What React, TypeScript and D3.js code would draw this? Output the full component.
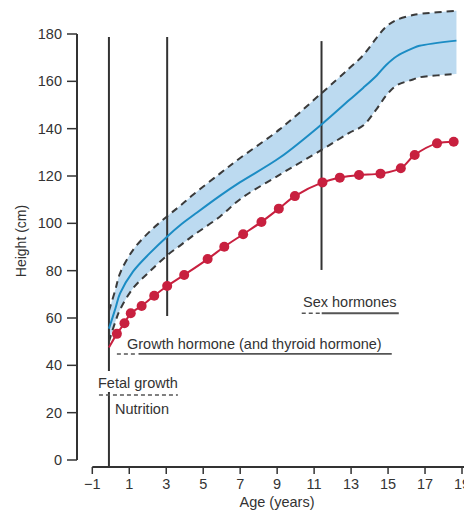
import React from "react";
import * as d3 from "d3";

const W = 464;
const H = 510;

// Reference band (ages in years, heights in cm)
const bandAges = [-0.1, 0.25, 0.5, 1.2, 2.1, 3.1, 3.75, 4.5, 5.9, 7.0, 9.15, 11.4, 12.9, 13.65, 14.4, 14.9, 15.45, 16.35, 16.7, 18.7];
const meanHeight = [55.5, 64, 70.4, 79.6, 87.3, 94.8, 99.2, 103.6, 111.6, 117.4, 127.8, 141.8, 152.1, 157.2, 162.6, 166.9, 170.5, 174, 175, 177.2];
const upperHeight = [63, 72, 78.9, 88.7, 96.5, 103.3, 107.4, 112.4, 121, 127.6, 139.8, 155, 165.5, 171, 178.6, 183.1, 185.9, 188, 188.5, 189.8];
const lowerHeight = [50, 58.5, 63.5, 72.5, 79.6, 86.8, 90.6, 95.1, 102.8, 110.2, 120.6, 131, 138.2, 141.3, 148.5, 154, 158.2, 160.8, 161.7, 163.1];

// Patient growth (red)
const patientStart = { age: -0.1, h: 47.5 };
const patientAges = [0.33, 0.74, 1.08, 1.67, 2.35, 3.05, 3.97, 5.24, 6.14, 7.16, 8.15, 9.09, 9.96, 11.45, 12.39, 13.43, 14.59, 15.69, 16.44, 17.65, 18.55];
const patientHeight = [53.3, 57.8, 62, 65.1, 69.4, 73.5, 78.2, 84.9, 90.1, 95.4, 100.6, 106.2, 111.5, 117.3, 119.3, 120.4, 121, 123.3, 128.9, 133.8, 134.5];

// Axes
const yTicks = [0, 20, 40, 60, 80, 100, 120, 140, 160, 180];
const xTicks = [-1, 1, 3, 5, 7, 9, 11, 13, 15, 17, 19];

// Vertical markers: age, from height, to height
const markerAges = [-0.1, 3.05, 11.4];
const markerTop = [178.7, 178.7, 177];
const markerBottom = [0, 60.8, 80.3];

// Annotation lines: label, dashed start, solid start, end (ages), height of line
const annLabels = ["Sex hormones", "Growth hormone (and thyroid hormone)"];
const annDashStart = [10.33, 0.33];
const annSolidStart = [11.41, 1.5];
const annEnd = [15.58, 15.2];
const annHeight = [62, 44.8];

export default function App() {
  const x = d3.scaleLinear().domain([-1, 19]).range([92.3, 462]);
  const y = d3.scaleLinear().domain([0, 180]).range([460, 34]);

  const curve = d3.curveCatmullRom.alpha(0.5);
  const idx = bandAges.map((_, i) => i);
  const area = d3
    .area<number>()
    .x((i) => x(bandAges[i]))
    .y0((i) => y(lowerHeight[i]))
    .y1((i) => y(upperHeight[i]))
    .curve(curve);
  const lineOf = (vals: number[]) =>
    d3
      .line<number>()
      .x((i) => x(bandAges[i]))
      .y((i) => y(vals[i]))
      .curve(curve)(idx) as string;

  const pts: [number, number][] = [[patientStart.age, patientStart.h], ...patientAges.map((a, i) => [a, patientHeight[i]] as [number, number])];
  const redLine = d3
    .line<[number, number]>()
    .x((d) => x(d[0]))
    .y((d) => y(d[1]))
    .curve(curve)(pts) as string;

  const font = "'Liberation Sans', Arial, Helvetica, sans-serif";
  const txt = "#333";
  const dark = "#333";

  return (
    <svg width={W} height={H} style={{ position: "absolute", left: 0, top: 0, background: "#fff" }} fontFamily={font}>
      {/* band */}
      <path d={area(idx) as string} fill="#bcdaf0" stroke="none" />

      {/* vertical markers */}
      {markerAges.map((a, i) =>
        i === 0 ? (
          <g key={i}>
            <line x1={x(a)} x2={x(a)} y1={y(markerTop[i])} y2={371} stroke={dark} strokeWidth={2} />
            <line x1={x(a)} x2={x(a)} y1={392} y2={y(markerBottom[i]) + 7} stroke={dark} strokeWidth={2} />
          </g>
        ) : (
          <line key={i} x1={x(a)} x2={x(a)} y1={y(markerTop[i])} y2={y(markerBottom[i])} stroke={dark} strokeWidth={2} />
        )
      )}

      {/* dashed bounds */}
      <path d={lineOf(upperHeight)} fill="none" stroke="#3a3a3a" strokeWidth={2} strokeDasharray="7 5" />
      <path d={lineOf(lowerHeight)} fill="none" stroke="#3a3a3a" strokeWidth={2} strokeDasharray="7 5" />
      {/* mean */}
      <path d={lineOf(meanHeight)} fill="none" stroke="#1b8cc4" strokeWidth={2} />

      {/* patient */}
      <path d={redLine} fill="none" stroke="#c8203f" strokeWidth={2} />
      {patientAges.map((a, i) => (
        <circle key={i} cx={x(a)} cy={y(patientHeight[i])} r={5} fill="#c8203f" />
      ))}

      {/* y axis */}
      <line x1={77} x2={77} y1={y(180)} y2={y(0)} stroke={dark} strokeWidth={2} />
      {yTicks.map((t) => (
        <g key={t}>
          <line x1={67} x2={77} y1={y(t)} y2={y(t)} stroke={dark} strokeWidth={1.5} />
          <text x={62} y={y(t)} dy="0.35em" textAnchor="end" fontSize={14.5} fill={txt}>
            {t}
          </text>
        </g>
      ))}
      <text transform={`translate(26,241) rotate(-90)`} textAnchor="middle" fontSize={14} fill={txt}>
        Height (cm)
      </text>

      {/* x axis */}
      <line x1={x(-1)} x2={W} y1={467} y2={467} stroke={dark} strokeWidth={2} />
      {xTicks.map((t) => (
        <g key={t}>
          <line x1={x(t)} x2={x(t)} y1={467} y2={474} stroke={dark} strokeWidth={1.5} />
          <text x={x(t)} y={484} dy="0.35em" textAnchor="middle" fontSize={14.5} fill={txt}>
            {t < 0 ? `\u2212${Math.abs(t)}` : t}
          </text>
        </g>
      ))}
      <text x={277} y={502} dy="0.35em" textAnchor="middle" fontSize={14.5} fill={txt}>
        Age (years)
      </text>

      {/* annotations */}
      {annLabels.map((lab, i) => (
        <g key={lab}>
          <line x1={x(annDashStart[i])} x2={x(annSolidStart[i]) - 1} y1={y(annHeight[i])} y2={y(annHeight[i])} stroke="#555" strokeWidth={1.5} strokeDasharray="4 3" />
          <line x1={x(annSolidStart[i])} x2={x(annEnd[i])} y1={y(annHeight[i])} y2={y(annHeight[i])} stroke="#555" strokeWidth={1.8} />
        </g>
      ))}
      <text x={303} y={302} dy="0.35em" fontSize={14.5} fill={txt}>
        Sex hormones
      </text>
      <text x={127} y={344} dy="0.35em" fontSize={14.5} fill={txt}>
        Growth hormone (and thyroid hormone)
      </text>

      {/* fetal growth / nutrition */}
      <text x={98} y={383} dy="0.35em" fontSize={14.5} fill={txt}>
        Fetal growth
      </text>
      <line x1={x(-0.64)} x2={x(3.63)} y1={y(27.5)} y2={y(27.5)} stroke="#555" strokeWidth={1.5} strokeDasharray="4 3" />
      <text x={115} y={409} dy="0.35em" fontSize={14.5} fill={txt}>
        Nutrition
      </text>
    </svg>
  );
}
